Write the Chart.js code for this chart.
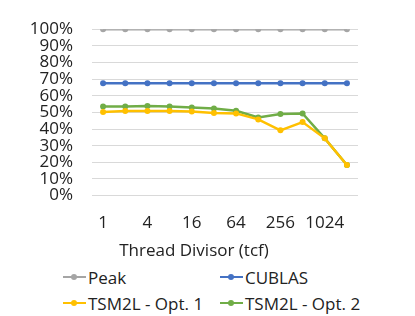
<!DOCTYPE html>
<html>
<head>
<meta charset="utf-8">
<script src="https://cdn.jsdelivr.net/npm/chart.js@4.4.0/dist/chart.umd.min.js"></script>
<style>
  body { margin: 0; background: #fff; font-family: "Open Sans", sans-serif; }
  #wrap { position: relative; width: 395px; height: 265px; }
  #legend { position: absolute; left: 63px; top: 265px; width: 340px;
            display: grid; grid-template-columns: 157px 170px; row-gap: 2px;
            font-size: 17px; color: #222; }
  .item { display: flex; align-items: center; height: 24px; white-space: nowrap; }
  .mark { position: relative; width: 23px; height: 2px; margin-right: 2px; }
  .mark i { position: absolute; left: 8px; top: -2px; width: 6px; height: 6px; border-radius: 50%; }
</style>
</head>
<body>
<div id="wrap"><canvas id="chart"></canvas></div>
<div id="legend"></div>
<script>
// thread divisor categories
var divisors = ["1", "2", "4", "8", "16", "32", "64", "128", "256", "512", "1024", "2048"];

// efficiency, in % of peak
var peak   = [100, 100, 100, 100, 100, 100, 100, 100, 100, 100, 100, 100];
var cublas = [67.5, 67.5, 67.5, 67.5, 67.5, 67.5, 67.5, 67.5, 67.5, 67.5, 67.5, 67.5];
var opt1   = [50.2, 50.8, 50.8, 50.8, 50.6, 49.6, 49.4, 45.8, 39.2, 44.2, 34.4, 18.4];
var opt2   = [53.6, 53.6, 53.8, 53.6, 53.0, 52.4, 51.0, 47.0, 49.0, 49.4, 34.4, 18.4];

var yTicks = [0, 10, 20, 30, 40, 50, 60, 70, 80, 90, 100];

var names  = ["Peak", "CUBLAS", "TSM2L - Opt. 1", "TSM2L - Opt. 2"];
var colors = ["#A5A5A5", "#4472C4", "#FFC000", "#70AD47"];
var series = [peak, cublas, opt1, opt2];

var datasets = series.map(function (vals, i) {
    return {
        label: names[i],
        data: vals,
        borderColor: colors[i],
        backgroundColor: colors[i],
        borderWidth: 2.5,
        pointRadius: 3,
        pointBorderWidth: 0,
        tension: 0
    };
});

var font = { family: "'Open Sans', sans-serif", size: 17 };

var chart = new Chart(document.getElementById("chart"), {
    type: "line",
    data: { labels: divisors, datasets: datasets },
    options: {
        responsive: true,
        maintainAspectRatio: false,
        animation: false,
        layout: { padding: { top: 21, right: 37, left: 30, bottom: 0 } },
        plugins: {
            legend: { display: false },
            tooltip: { enabled: false },
            title: {
                display: true,
                position: "bottom",
                text: "Thread Divisor (tcf)",
                color: "#222",
                font: { family: font.family, size: 17, weight: "normal" },
                padding: { top: 6, bottom: 4 }
            }
        },
        scales: {
            x: {
                offset: true,
                grid: { display: false, drawTicks: false },
                border: { display: false },
                afterFit: function (axis) { axis.height = 39; },
                ticks: {
                    autoSkip: false,
                    maxRotation: 0,
                    color: "#222",
                    font: font,
                    padding: 17,
                    callback: function (v, i) {
                        return i % 2 === 0 ? this.getLabelForValue(v) : "";
                    }
                }
            },
            y: {
                min: 0,
                max: 100,
                afterBuildTicks: function (axis) {
                    axis.ticks = yTicks.map(function (v) { return { value: v }; });
                },
                afterFit: function (axis) { axis.width = 62; },
                grid: { color: "#D9D9D9", lineWidth: 1, drawTicks: false },
                border: { display: false },
                ticks: {
                    autoSkip: false,
                    color: "#222",
                    font: font,
                    padding: 19,
                    callback: function (v) { return v + "%"; }
                }
            }
        }
    }
});

// legend in two columns, like the original
var legend = document.getElementById("legend");
chart.data.datasets.forEach(function (ds) {
    var item = document.createElement("div");
    item.className = "item";
    var mark = document.createElement("span");
    mark.className = "mark";
    mark.style.background = ds.borderColor;
    var dot = document.createElement("i");
    dot.style.background = ds.borderColor;
    mark.appendChild(dot);
    item.appendChild(mark);
    item.appendChild(document.createTextNode(ds.label));
    legend.appendChild(item);
});
</script>
</body>
</html>
